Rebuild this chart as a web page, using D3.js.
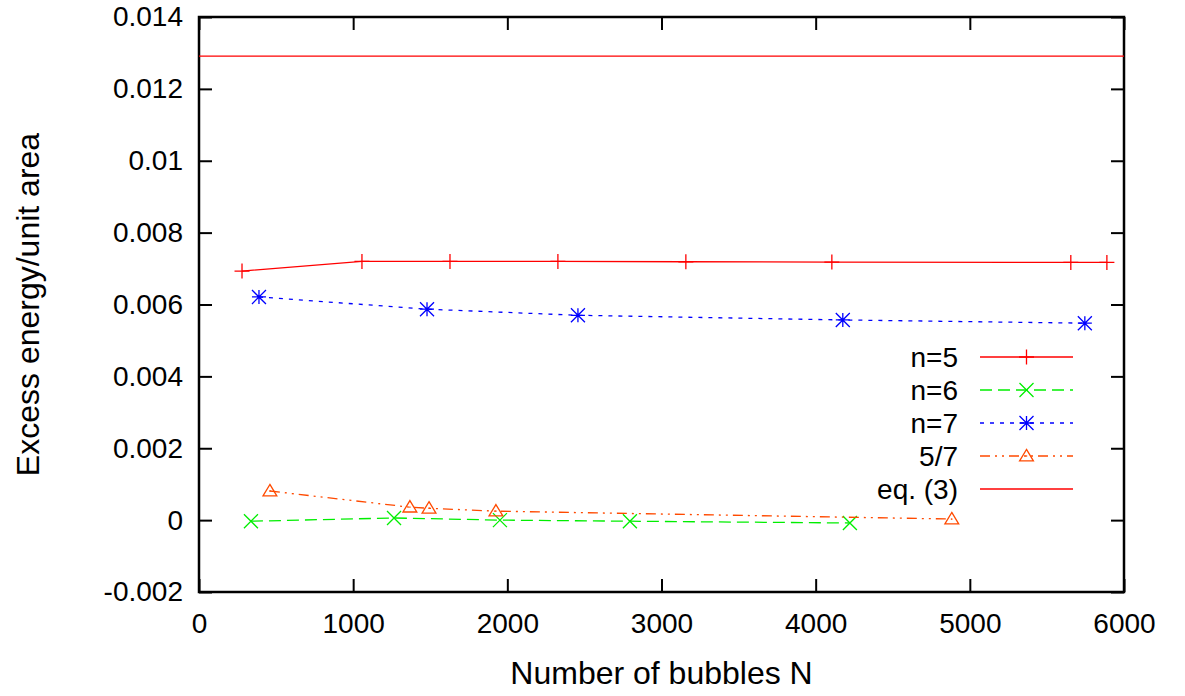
<!DOCTYPE html>
<html>
<head>
<meta charset="utf-8">
<script src="https://cdn.jsdelivr.net/npm/d3@7"></script>
<style>
  body { margin: 0; background: #fff; }
  svg { display: block; font-family: "Liberation Sans", Arial, sans-serif; }
</style>
</head>
<body>
<svg></svg>
<script>
// Data
const n5X = [279, 1057, 1628, 2328, 3158, 4105, 5655, 5889];
const n5Y = [0.00693, 0.00720, 0.00720, 0.00720, 0.00719, 0.00718, 0.00717, 0.00717];

const n6X = [337, 1265, 1952, 2795, 4222];
const n6Y = [-0.00003, 0.00006, 0.0, -0.00003, -0.00008];

const n7X = [389, 1479, 2458, 4176, 5746];
const n7Y = [0.00621, 0.00587, 0.00570, 0.00557, 0.00548];

const r57X = [460, 1368, 1492, 1926, 4883];
const r57Y = [0.00081, 0.00036, 0.00033, 0.00025, 0.00003];

const eq3Y = 0.01291;

const xTicks = [0, 1000, 2000, 3000, 4000, 5000, 6000];
const yTicks = [-0.002, 0, 0.002, 0.004, 0.006, 0.008, 0.01, 0.012, 0.014];
const yTickLabels = ["-0.002", "0", "0.002", "0.004", "0.006", "0.008", "0.01", "0.012", "0.014"];

const width = 1185;
const height = 696;
const marginLeft = 199;
const marginRight = 61;
const marginTop = 17;
const marginBottom = 104;

const x = d3.scaleLinear([0, 6000], [marginLeft, width - marginRight]);
const y = d3.scaleLinear([-0.002, 0.014], [height - marginBottom, marginTop]);

const svg = d3.select("svg")
    .attr("width", width)
    .attr("height", height)
    .attr("viewBox", [0, 0, width, height]);

const fontSize = 28;
const titleSize = 32;

// Axes with inward ticks
svg.append("g")
    .attr("transform", `translate(0,${height - marginBottom})`)
    .call(d3.axisBottom(x).tickValues(xTicks).tickFormat(d3.format("d")).tickSize(-13).tickPadding(21).tickSizeOuter(0))
    .call(g => g.select(".domain").remove())
    .call(g => g.selectAll("text").attr("font-size", fontSize).attr("fill", "#000").attr("font-family", null))
    .call(g => g.selectAll(".tick line").attr("stroke-width", 2));

svg.append("g")
    .attr("transform", `translate(0,${marginTop})`)
    .call(d3.axisTop(x).tickValues(xTicks).tickSize(-13).tickFormat("").tickSizeOuter(0))
    .call(g => g.select(".domain").remove())
    .call(g => g.selectAll(".tick line").attr("stroke-width", 2));

svg.append("g")
    .attr("transform", `translate(${marginLeft},0)`)
    .call(d3.axisLeft(y).tickValues(yTicks).tickSize(-13).tickPadding(16).tickSizeOuter(0)
        .tickFormat((d, i) => yTickLabels[i]))
    .call(g => g.select(".domain").remove())
    .call(g => g.selectAll("text").attr("font-size", fontSize).attr("fill", "#000").attr("font-family", null))
    .call(g => g.selectAll(".tick line").attr("stroke-width", 2));

svg.append("g")
    .attr("transform", `translate(${width - marginRight},0)`)
    .call(d3.axisRight(y).tickValues(yTicks).tickSize(-13).tickFormat("").tickSizeOuter(0))
    .call(g => g.select(".domain").remove())
    .call(g => g.selectAll(".tick line").attr("stroke-width", 2));

// Frame
svg.append("rect")
    .attr("x", marginLeft)
    .attr("y", marginTop)
    .attr("width", width - marginLeft - marginRight)
    .attr("height", height - marginTop - marginBottom)
    .attr("fill", "none")
    .attr("stroke", "#000")
    .attr("stroke-width", 2.5);

// Axis titles
svg.append("text")
    .attr("x", (marginLeft + width - marginRight) / 2)
    .attr("y", 684)
    .attr("text-anchor", "middle")
    .attr("font-size", titleSize)
    .text("Number of bubbles N");

svg.append("text")
    .attr("transform", `translate(39,${(marginTop + height - marginBottom) / 2}) rotate(-90)`)
    .attr("text-anchor", "middle")
    .attr("font-size", titleSize)
    .text("Excess energy/unit area");

// Markers
const plus = (g, s) => g.append("path").attr("d", `M${-s},0H${s}M0,${-s}V${s}`);
const cross = (g, s) => g.append("path").attr("d", `M${-s},${-s}L${s},${s}M${-s},${s}L${s},${-s}`);
const star = (g, s) => g.append("path").attr("d", `M${-s},0H${s}M0,${-s}V${s}M${-s},${-s}L${s},${s}M${-s},${s}L${s},${-s}`);
const tri = (g, s) => {
    g.append("path").attr("d", `M0,${-s * 1.1}L${s * 1.15},${s * 0.8}L${-s * 1.15},${s * 0.8}Z`).attr("fill", "none");
    g.append("path").attr("d", "M-0.7,0H0.7");
};

const series = [
    { label: "n=5", xs: n5X, ys: n5Y, color: "#ff0000", dash: null, marker: plus, size: 7.5 },
    { label: "n=6", xs: n6X, ys: n6Y, color: "#00ee00", dash: "12,6", marker: cross, size: 7 },
    { label: "n=7", xs: n7X, ys: n7Y, color: "#0000ff", dash: "4,6", marker: star, size: 7 },
    { label: "5/7", xs: r57X, ys: r57Y, color: "#ff4a00", dash: "10,5,2,5,2,5", marker: tri, size: 6 }
];

const line = d3.line().x(d => x(d[0])).y(d => y(d[1]));

const plot = svg.append("g");

series.forEach(s => {
    const pts = s.xs.map((v, i) => [v, s.ys[i]]);
    plot.append("path")
        .attr("fill", "none")
        .attr("stroke", s.color)
        .attr("stroke-width", 1.3)
        .attr("stroke-dasharray", s.dash)
        .attr("d", line(pts));
    pts.forEach(p => {
        const g = plot.append("g")
            .attr("transform", `translate(${x(p[0])},${y(p[1])})`)
            .attr("stroke", s.color)
            .attr("stroke-width", 1.3)
            .attr("fill", "none");
        s.marker(g, s.size);
    });
});

// eq. (3) horizontal line
plot.append("path")
    .attr("fill", "none")
    .attr("stroke", "#ff0000")
    .attr("stroke-width", 1.3)
    .attr("d", line([[0, eq3Y], [6000, eq3Y]]));

// Legend
const legendItems = series.concat([{ label: "eq. (3)", color: "#ff0000", dash: null, marker: null }]);
const legendTextX = 958;
const legendLineX0 = 980;
const legendLineX1 = 1073;
const legendY0 = 357;
const legendStep = 33;

legendItems.forEach((s, i) => {
    const ly = legendY0 + i * legendStep;
    svg.append("text")
        .attr("x", legendTextX)
        .attr("y", ly)
        .attr("dy", "0.35em")
        .attr("text-anchor", "end")
        .attr("font-size", fontSize)
        .text(s.label);
    svg.append("line")
        .attr("x1", legendLineX0)
        .attr("x2", legendLineX1)
        .attr("y1", ly)
        .attr("y2", ly)
        .attr("stroke", s.color)
        .attr("stroke-width", 1.3)
        .attr("stroke-dasharray", s.dash);
    if (s.marker) {
        const g = svg.append("g")
            .attr("transform", `translate(${(legendLineX0 + legendLineX1) / 2},${ly})`)
            .attr("stroke", s.color)
            .attr("stroke-width", 1.3)
            .attr("fill", "none");
        s.marker(g, s.size);
    }
});
</script>
</body>
</html>
